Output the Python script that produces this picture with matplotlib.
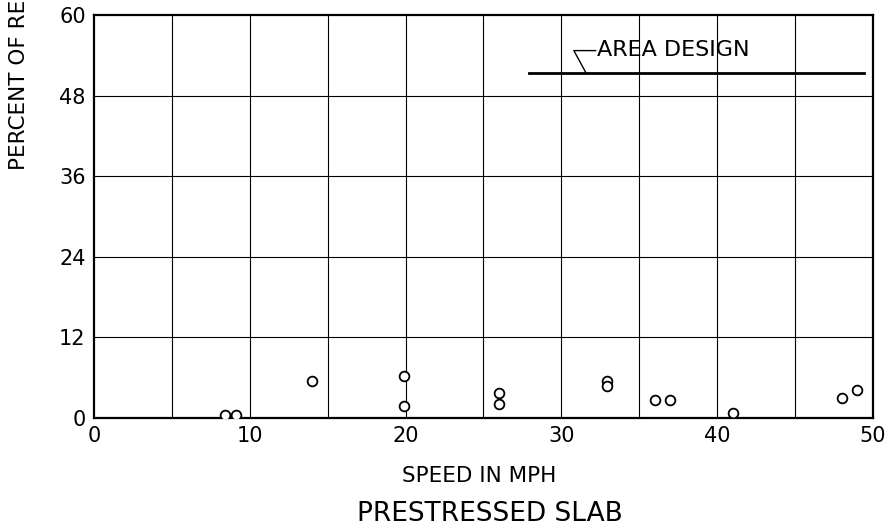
import numpy as np
import matplotlib
matplotlib.use("Agg")
from matplotlib import pyplot as plt

# speed (mph) vs percent
speed = [8.4, 9.1, 14.0, 19.9, 19.9, 26.0, 26.0, 32.9, 32.9, 36.0, 37.0, 41.0, 48.0, 49.0]
percent = [0.5, 0.5, 5.5, 6.3, 1.8, 3.7, 2.1, 5.5, 4.8, 2.7, 2.7, 0.8, 3.0, 4.2]

design_x = [27.9, 49.4]
design_y = [51.3, 51.3]

xticks = [0, 10, 20, 30, 40, 50]
yticks = [0, 12, 24, 36, 48, 60]

plt.rcParams['font.family'] = ['DejaVu Sans']
fig = plt.figure(figsize=(8.96, 5.30), dpi=100)
ax = fig.add_axes([0.1049, 0.2113, 0.8694, 0.7604])

ax.set_xlim(0, 50)
ax.set_ylim(0, 60)

# grid every 5 mph and 12 percent
for gx in np.arange(5, 50, 5):
    ax.axvline(gx, color='black', lw=0.8, zorder=1)
for gy in yticks[1:-1]:
    ax.axhline(gy, color='black', lw=0.8, zorder=1)

ax.plot(speed, percent, 'o', mfc='white', mec='black', ms=7, mew=1.3, zorder=3)

ax.plot(design_x, design_y, color='black', lw=2, zorder=2)
# leader from label down to the design line
ax.plot([32.2, 30.8, 31.6], [54.7, 54.7, 51.3], color='black', lw=1)
ax.text(32.3, 54.8, 'AREA DESIGN', fontsize=16, va='center', ha='left')

for s in ax.spines.values():
    s.set_linewidth(1.6)

ax.set_xticks(xticks)
ax.set_yticks(yticks)
ax.tick_params(length=0, labelsize=15, pad=6)

fig.text(0.5346, 0.102, 'SPEED IN MPH', fontsize=15.5, ha='center', va='center')
fig.text(0.021, 1.0, 'PERCENT OF RE', rotation=90, fontsize=15.5,
         ha='center', va='top')
fig.text(0.547, 0.030, 'PRESTRESSED SLAB', fontsize=19, ha='center', va='center')

fig.savefig('out.png', dpi=100)
